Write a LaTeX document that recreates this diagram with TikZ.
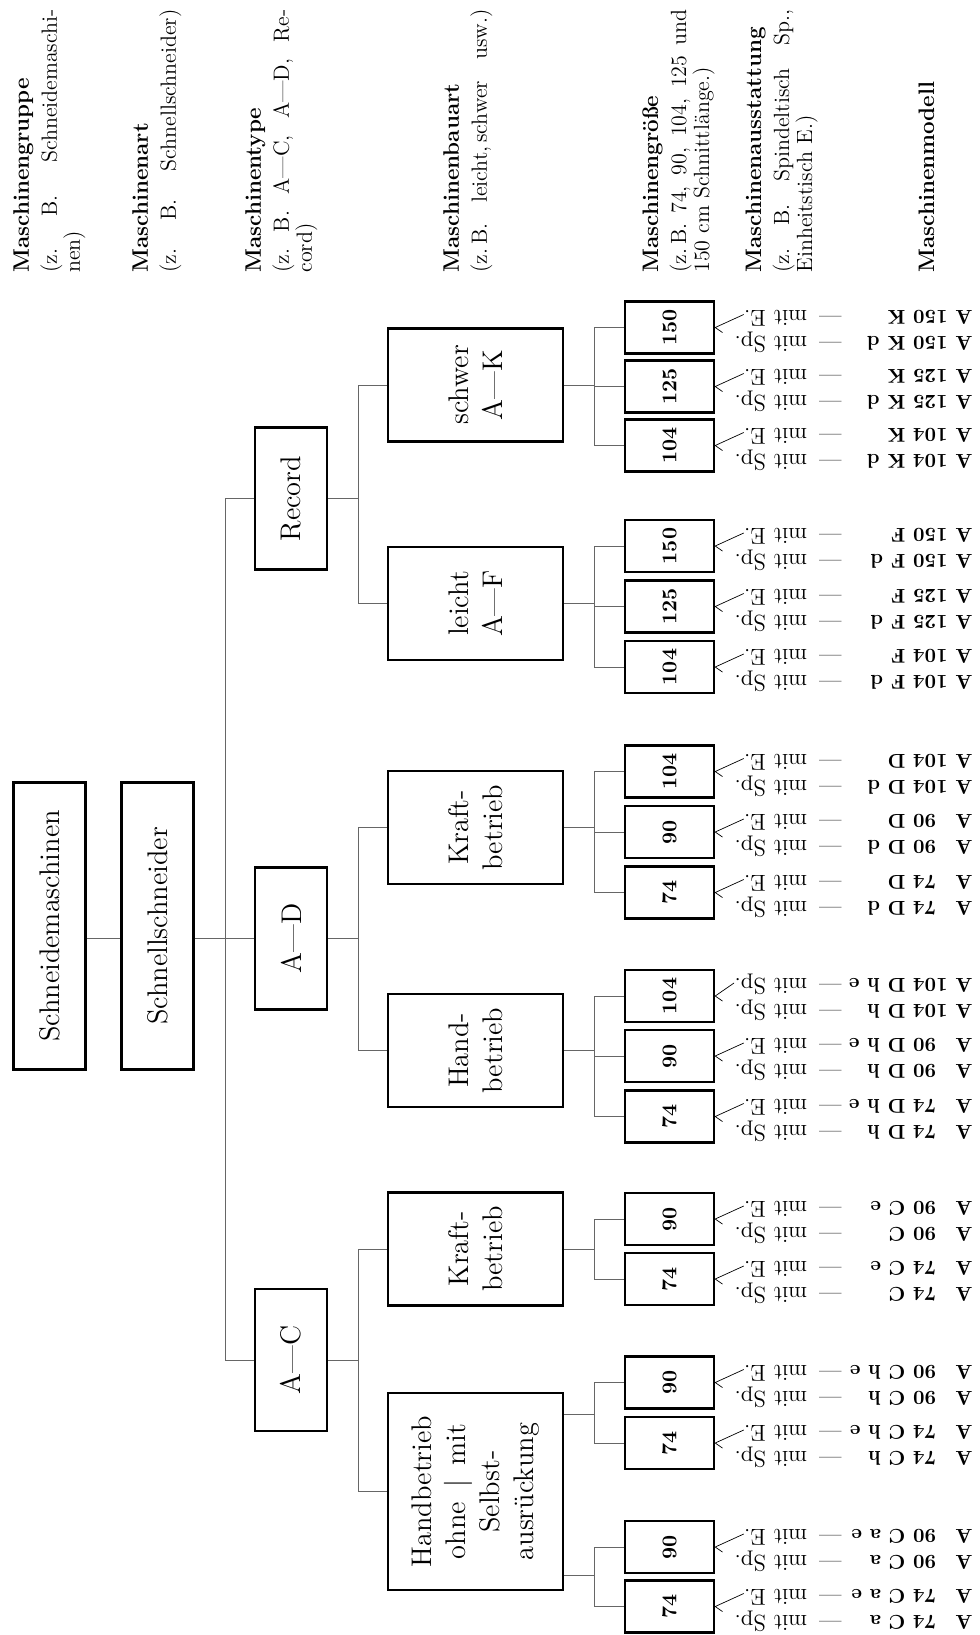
\documentclass[tikz,border=0pt]{standalone}
\usepackage{fontspec}
\usetikzlibrary{calc}
\newcommand{\mdl}[1]{\makebox[65.5pt][l]{\fontsize{10}{12}\selectfont\bfseries #1}}
\newcommand{\kopf}[1]{{\fontsize{11.2}{13}\selectfont\bfseries #1\par}\vspace{2.5pt}}
\begin{document}
\begin{tikzpicture}[x=.5pt,y=-.5pt,line width=.45pt,
  box/.style={draw,line width=1.2pt,rotate=90,inner sep=1pt,align=center,font=\fontsize{14.2}{17}\selectfont},
  rootbox/.style={box,minimum width=143.5pt,minimum height=36pt},
  typebox/.style={box,minimum width=71pt,minimum height=36pt},
  artbox/.style={box,minimum width=56.5pt,minimum height=87.5pt},
  sizebox/.style={box,minimum width=26pt,minimum height=44.5pt,font=\fontsize{10.5}{12}\selectfont\bfseries},
  row/.style={rotate=180,anchor=mid west,inner sep=0pt,font=\fontsize{11.5}{13}\selectfont},
  head/.style={rotate=90,anchor=north west,inner sep=0pt,text width=131.5pt,align=justify,font=\fontsize{11}{11.5}\selectfont},
  conn/.style={gray!80!black},
  fan/.style={line width=.35pt,shorten >=7pt}]
  \useasboundingbox (0,0) rectangle (980,1635);
  % column heads
  \node[head] (hgruppe) at (13,273) {\kopf{Maschinengruppe}(z.~B. Schneidemaschi-\linebreak nen)};
  \node[head] (hart) at (132,273) {\kopf{Maschinenart}(z.~B. Schnellschneider)\linebreak};
  \node[head] (htype) at (245,273) {\kopf{Maschinentype}(z.~B. A---C, A---D, Re-\linebreak cord)};
  \node[head] (hbauart) at (443,273) {\kopf{Maschinenbauart}\makebox[131.5pt][s]{(z.\,B. leicht,\,schwer usw.)}};
  \node[head] (hgroesse) at (642,273) {\kopf{Maschinengröße}(z.\,B. 74, 90, 104, 125 und\linebreak 150 cm Schnittlänge.)};
  \node[head] (hausst) at (745,273) {\kopf{Maschinenausstattung}(z.~B. Spindeltisch Sp.,\linebreak Einheitstisch E.)};
  \node[head] (hmodell) at (918,273) {\kopf{Maschinenmodell}};
  % group and kind
  \node[rootbox] (sm) at (49.5,926) {Schneidemaschinen};
  \node[rootbox] (ss) at (157.5,926) {Schnellschneider};
  % types
  \node[typebox] (rec) at (291,498.5) {Record};
  \node[typebox] (ad) at (291,938.5) {A---D};
  \node[typebox] (ac) at (291,1360) {A---C};
  \draw[conn] (sm.south |- ad.north) -- (ss.north |- ad.north);
  \draw[conn] (ss.south |- ad.north) -- (ad.north);
  \coordinate (bus1) at ($(ss.south |- ad.north)+(31,0)$);
  \draw[conn] (rec.north) -| (bus1) |- (ac.north);
  % build
  \node[artbox] (sw) at (475.5,385) {schwer\\A---K};
  \node[artbox] (lt) at (475.5,603.5) {leicht\\A---F};
  \node[artbox] (kd) at (475.5,827.5) {Kraft-\\betrieb};
  \node[artbox] (hd) at (475.5,1050.5) {Hand-\\betrieb};
  \node[artbox] (kc) at (475.5,1249) {Kraft-\\betrieb};
  \node[artbox,minimum width=98.5pt] (hb) at (475.5,1491.5) {Handbetrieb\\ohne\hspace{.5em}\textbar\hspace{.5em}mit\\Selbst-\\ausrückung};
  \draw[conn] (rec.south) -- ++(30,0) coordinate (bus2) |- (sw.north) (bus2) |- (lt.north);
  \draw[conn] (ad.south) -- ++(30,0) coordinate (bus3) |- (kd.north) (bus3) |- (hd.north);
  \draw[conn] (ac.south) -- ++(30,0) coordinate (bus4) |- (kc.north) (bus4) |- (hb.north);
  % sizes, schwer
  \node[sizebox] (k150) at (669.5,327.5) {150};
  \node[sizebox] (k125) at (669.5,386.5) {125};
  \node[sizebox] (k104) at (669.5,445.5) {104};
  \draw[conn] (sw.south) -- ++(30,0) coordinate (bus5) |- (k150.north) (bus5) |- (k125.north) (bus5) |- (k104.north);
  % sizes, leicht
  \node[sizebox] (f150) at (669.5,546) {150};
  \node[sizebox] (f125) at (669.5,606.5) {125};
  \node[sizebox] (f104) at (669.5,667) {104};
  \draw[conn] (lt.south) -- ++(30,0) coordinate (bus6) |- (f150.north) (bus6) |- (f125.north) (bus6) |- (f104.north);
  % sizes, A--D Kraftbetrieb
  \node[sizebox] (d104) at (669.5,771.5) {104};
  \node[sizebox] (d90) at (669.5,832) {90};
  \node[sizebox] (d74) at (669.5,892.5) {74};
  \draw[conn] (kd.south) -- ++(30,0) coordinate (bus7) |- (d104.north) (bus7) |- (d90.north) (bus7) |- (d74.north);
  % sizes, A--D Handbetrieb
  \node[sizebox] (dh104) at (669.5,996) {104};
  \node[sizebox] (dh90) at (669.5,1056) {90};
  \node[sizebox] (dh74) at (669.5,1116.5) {74};
  \draw[conn] (hd.south) -- ++(30,0) coordinate (bus8) |- (dh104.north) (bus8) |- (dh90.north) (bus8) |- (dh74.north);
  % sizes, A--C Kraftbetrieb
  \node[sizebox] (c90) at (669.5,1219) {90};
  \node[sizebox] (c74) at (669.5,1279) {74};
  \draw[conn] (kc.south) -- ++(30,0) coordinate (bus9) |- (c90.north) (bus9) |- (c74.north);
  % sizes, A--C Handbetrieb mit / ohne
  \node[sizebox] (ch90) at (669.5,1382.5) {90};
  \node[sizebox] (ch74) at (669.5,1443) {74};
  \node[sizebox] (ca90) at (669.5,1547) {90};
  \node[sizebox] (ca74) at (669.5,1606.5) {74};
  \draw[conn] ($(hb.south)+(0,-77.5)$) -- ++(30,0) coordinate (bus10) |- (ch90.north) (bus10) |- (ch74.north);
  \draw[conn] ($(hb.south)+(0,83.5)$) -- ++(30,0) coordinate (bus11) |- (ca90.north) (bus11) |- (ca74.north);
  % equipment and models
  \node[row] (k150e) at (973,314.5) {\mdl{A 150 K}---\hspace{6pt}mit E.}; \node[row] (k150s) at (973,340.5) {\mdl{A 150 K d}---\hspace{6pt}mit Sp.};
  \node[row] (k125e) at (973,373.5) {\mdl{A 125 K}---\hspace{6pt}mit E.}; \node[row] (k125s) at (973,399.5) {\mdl{A 125 K d}---\hspace{6pt}mit Sp.};
  \node[row] (k104e) at (973,432.5) {\mdl{A 104 K}---\hspace{6pt}mit E.}; \node[row] (k104s) at (973,458.5) {\mdl{A 104 K d}---\hspace{6pt}mit Sp.};
  \node[row] (f150e) at (973,533) {\mdl{A 150 F}---\hspace{6pt}mit E.}; \node[row] (f150s) at (973,559) {\mdl{A 150 F d}---\hspace{6pt}mit Sp.};
  \node[row] (f125e) at (973,593.5) {\mdl{A 125 F}---\hspace{6pt}mit E.}; \node[row] (f125s) at (973,619.5) {\mdl{A 125 F d}---\hspace{6pt}mit Sp.};
  \node[row] (f104e) at (973,654) {\mdl{A 104 F}---\hspace{6pt}mit E.}; \node[row] (f104s) at (973,680) {\mdl{A 104 F d}---\hspace{6pt}mit Sp.};
  \node[row] (d104e) at (973,758.5) {\mdl{A 104 D}---\hspace{6pt}mit E.}; \node[row] (d104s) at (973,784.5) {\mdl{A 104 D d}---\hspace{6pt}mit Sp.};
  \node[row] (d90e) at (973,819) {\mdl{A \phantom{1}90 D}---\hspace{6pt}mit E.}; \node[row] (d90s) at (973,845) {\mdl{A \phantom{1}90 D d}---\hspace{6pt}mit Sp.};
  \node[row] (d74e) at (973,879.5) {\mdl{A \phantom{1}74 D}---\hspace{6pt}mit E.}; \node[row] (d74s) at (973,905.5) {\mdl{A \phantom{1}74 D d}---\hspace{6pt}mit Sp.};
  \node[row] (dh104e) at (973,983) {\mdl{A 104 D h e}---\hspace{6pt}mit Sp.}; \node[row] (dh104s) at (973,1009) {\mdl{A 104 D h}---\hspace{6pt}mit Sp.};
  \node[row] (dh90e) at (973,1043) {\mdl{A \phantom{1}90 D h e}---\hspace{6pt}mit E.}; \node[row] (dh90s) at (973,1069) {\mdl{A \phantom{1}90 D h}---\hspace{6pt}mit Sp.};
  \node[row] (dh74e) at (973,1103.5) {\mdl{A \phantom{1}74 D h e}---\hspace{6pt}mit E.}; \node[row] (dh74s) at (973,1129.5) {\mdl{A \phantom{1}74 D h}---\hspace{6pt}mit Sp.};
  \node[row] (c90e) at (973,1206) {\mdl{A \phantom{1}90 C e}---\hspace{6pt}mit E.}; \node[row] (c90s) at (973,1232) {\mdl{A \phantom{1}90 C}---\hspace{6pt}mit Sp.};
  \node[row] (c74e) at (973,1266) {\mdl{A \phantom{1}74 C e}---\hspace{6pt}mit E.}; \node[row] (c74s) at (973,1292) {\mdl{A \phantom{1}74 C}---\hspace{6pt}mit Sp.};
  \node[row] (ch90e) at (973,1369.5) {\mdl{A \phantom{1}90 C h e}---\hspace{6pt}mit E.}; \node[row] (ch90s) at (973,1395.5) {\mdl{A \phantom{1}90 C h}---\hspace{6pt}mit Sp.};
  \node[row] (ch74e) at (973,1430) {\mdl{A \phantom{1}74 C h e}---\hspace{6pt}mit E.}; \node[row] (ch74s) at (973,1456) {\mdl{A \phantom{1}74 C h}---\hspace{6pt}mit Sp.};
  \node[row] (ca90e) at (973,1534) {\mdl{A \phantom{1}90 C a e}---\hspace{6pt}mit E.}; \node[row] (ca90s) at (973,1560) {\mdl{A \phantom{1}90 C a}---\hspace{6pt}mit Sp.};
  \node[row] (ca74e) at (973,1593.5) {\mdl{A \phantom{1}74 C a e}---\hspace{6pt}mit E.}; \node[row] (ca74s) at (973,1619.5) {\mdl{A \phantom{1}74 C a}---\hspace{6pt}mit Sp.};
  % forks
  \draw[fan] (k150.south) -- (k150e.mid east) (k150.south) -- (k150s.mid east);
  \draw[fan] (k125.south) -- (k125e.mid east) (k125.south) -- (k125s.mid east);
  \draw[fan] (k104.south) -- (k104e.mid east) (k104.south) -- (k104s.mid east);
  \draw[fan] (f150.south) -- (f150e.mid east) (f150.south) -- (f150s.mid east);
  \draw[fan] (f125.south) -- (f125e.mid east) (f125.south) -- (f125s.mid east);
  \draw[fan] (f104.south) -- (f104e.mid east) (f104.south) -- (f104s.mid east);
  \draw[fan] (d104.south) -- (d104e.mid east) (d104.south) -- (d104s.mid east);
  \draw[fan] (d90.south) -- (d90e.mid east) (d90.south) -- (d90s.mid east);
  \draw[fan] (d74.south) -- (d74e.mid east) (d74.south) -- (d74s.mid east);
  \draw[fan] (dh104.south) -- (dh104e.mid east) (dh104.south) -- (dh104s.mid east);
  \draw[fan] (dh90.south) -- (dh90e.mid east) (dh90.south) -- (dh90s.mid east);
  \draw[fan] (dh74.south) -- (dh74e.mid east) (dh74.south) -- (dh74s.mid east);
  \draw[fan] (c90.south) -- (c90e.mid east) (c90.south) -- (c90s.mid east);
  \draw[fan] (c74.south) -- (c74e.mid east) (c74.south) -- (c74s.mid east);
  \draw[fan] (ch90.south) -- (ch90e.mid east) (ch90.south) -- (ch90s.mid east);
  \draw[fan] (ch74.south) -- (ch74e.mid east) (ch74.south) -- (ch74s.mid east);
  \draw[fan] (ca90.south) -- (ca90e.mid east) (ca90.south) -- (ca90s.mid east);
  \draw[fan] (ca74.south) -- (ca74e.mid east) (ca74.south) -- (ca74s.mid east);
\end{tikzpicture}
\end{document}
